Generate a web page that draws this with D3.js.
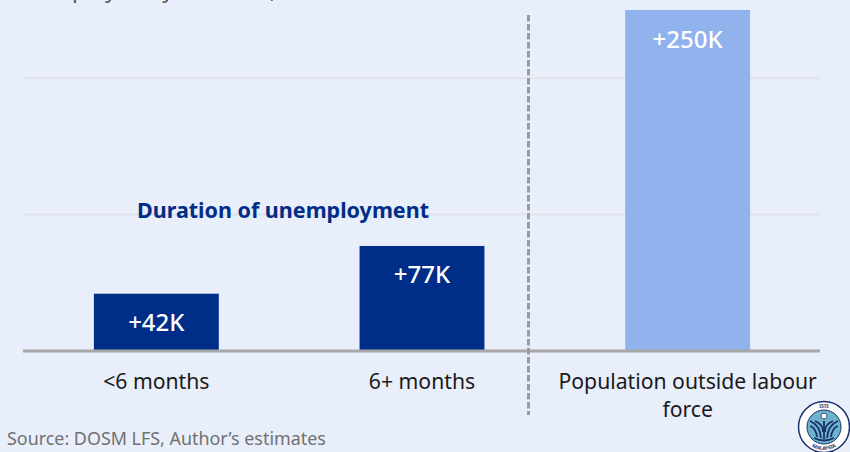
<!DOCTYPE html>
<html>
<head>
<meta charset="utf-8">
<script src="https://cdn.jsdelivr.net/npm/d3@7"></script>
<style>
html,body{margin:0;padding:0;background:#e8eefa;overflow:hidden}
svg{display:block}
text{font-family:"Noto Sans","Open Sans",sans-serif}
</style>
</head>
<body>
<svg id="chart" width="850" height="452"></svg>
<script>
// Change in persons, thousands
const categories = ["<6 months", "6+ months", "Population outside labour force"];
const values = [42, 77, 250];
const valueLabels = ["+42K", "+77K", "+250K"];
const barColors = ["#002d87", "#002d87", "#91b3ed"];
const gridTicks = [100, 200];
const title = "Unemployed by duration,";
const groupLabel = "Duration of unemployment";
const source = "Source: DOSM LFS, Author’s estimates";

const svg = d3.select("#chart");

const x = d3.scaleBand().domain(categories).range([23.5, 820.5]).paddingInner(0.53).paddingOuter(0.265);
const y = d3.scaleLinear().domain([0, 250]).range([351, 10]);

// headline runs off the top edge, only its descenders remain
svg.append("text").attr("x", 8).attr("y", -2).attr("font-size", 22.5).attr("fill", "#555").text(title);

// gridlines
svg.append("g").selectAll("line").data(gridTicks).join("line")
  .attr("x1", 23).attr("x2", 820)
  .attr("y1", d => y(d)).attr("y2", d => y(d))
  .attr("stroke", "#e0e2e8").attr("stroke-width", 2);

// bars
svg.append("g").selectAll("rect").data(values).join("rect")
  .attr("x", (d, i) => x(categories[i]))
  .attr("width", x.bandwidth())
  .attr("y", d => y(d))
  .attr("height", d => y(0) - y(d))
  .attr("fill", (d, i) => barColors[i]);

// baseline
svg.append("line")
  .attr("x1", 23).attr("x2", 820)
  .attr("y1", y(0)).attr("y2", y(0))
  .attr("stroke", "#a8a8a8").attr("stroke-width", 3);

// divider between unemployment and outside labour force
svg.append("line")
  .attr("x1", 528.5).attr("x2", 528.5).attr("y1", 15).attr("y2", 415)
  .attr("stroke", "#999ba0").attr("stroke-width", 3).attr("stroke-dasharray", "6.5 2.5");

// value labels inside bars
svg.append("g").selectAll("text").data(values).join("text")
  .attr("x", (d, i) => x(categories[i]) + x.bandwidth() / 2)
  .attr("y", d => y(d) + 37.5)
  .attr("text-anchor", "middle")
  .attr("font-size", 24)
  .attr("font-weight", 500)
  .attr("fill", "#fff")
  .text((d, i) => valueLabels[i]);

svg.append("text").attr("x", 283).attr("y", 218)
  .attr("text-anchor", "middle").attr("font-size", 21.5).attr("font-weight", 700)
  .attr("fill", "#002d87").text(groupLabel);

// category labels, last one wraps to two lines
const catLines = [["<6 months"], ["6+ months"], ["Population outside labour", "force"]];
const catG = svg.append("g").selectAll("text").data(categories).join("text")
  .attr("text-anchor", "middle").attr("font-size", 21.2).attr("fill", "#1a1a1a");
catG.each(function (d, i) {
  const t = d3.select(this);
  catLines[i].forEach((ln, k) => {
    t.append("tspan").attr("x", x(d) + x.bandwidth() / 2).attr("y", 389 + k * 28).text(ln);
  });
});

svg.append("text").attr("x", 7).attr("y", 445).attr("font-size", 17.9).attr("fill", "#717171").text(source);

// institute seal, bottom right
const ink = "#1a2f6b";
const seal = svg.append("g").attr("transform", "translate(824,427)");
seal.append("circle").attr("r", 25.5).attr("fill", "#fff").attr("stroke", ink).attr("stroke-width", 1.5);
seal.append("circle").attr("r", 17).attr("fill", "#6db3cc").attr("stroke", ink).attr("stroke-width", 1);
seal.append("circle").attr("cy", -11).attr("r", 3).attr("fill", "#fff").attr("stroke", ink).attr("stroke-width", 0.8);
const sealPaths = [
  "M-14,-6 Q-4,-2 -3,11", "M14,-6 Q4,-2 3,11",
  "M-14,-1 Q-8,1 -7,10", "M14,-1 Q8,1 7,10",
  "M-9,-6 Q-1,-3 -1,5", "M9,-6 Q1,-3 1,5",
  "M-10,11 Q0,16 10,11", "M0,-6 L0,12"
];
seal.append("g").selectAll("path").data(sealPaths).join("path")
  .attr("d", d => d).attr("fill", "none").attr("stroke", ink).attr("stroke-width", 1.8);
const defs = svg.append("defs");
defs.append("path").attr("id", "sealTop").attr("d", "M-19.5,0 A19.5,19.5 0 0 1 19.5,0");
defs.append("path").attr("id", "sealBottom").attr("d", "M-23,0 A23,23 0 0 0 23,0");
[["#sealTop", "ISIS"], ["#sealBottom", "MALAYSIA"]].forEach(([href, label]) => {
  seal.append("text").attr("font-size", 5).attr("font-weight", 700).attr("fill", ink)
    .attr("text-anchor", "middle")
    .append("textPath").attr("href", href).attr("startOffset", "50%").text(label);
});
</script>
</body>
</html>
